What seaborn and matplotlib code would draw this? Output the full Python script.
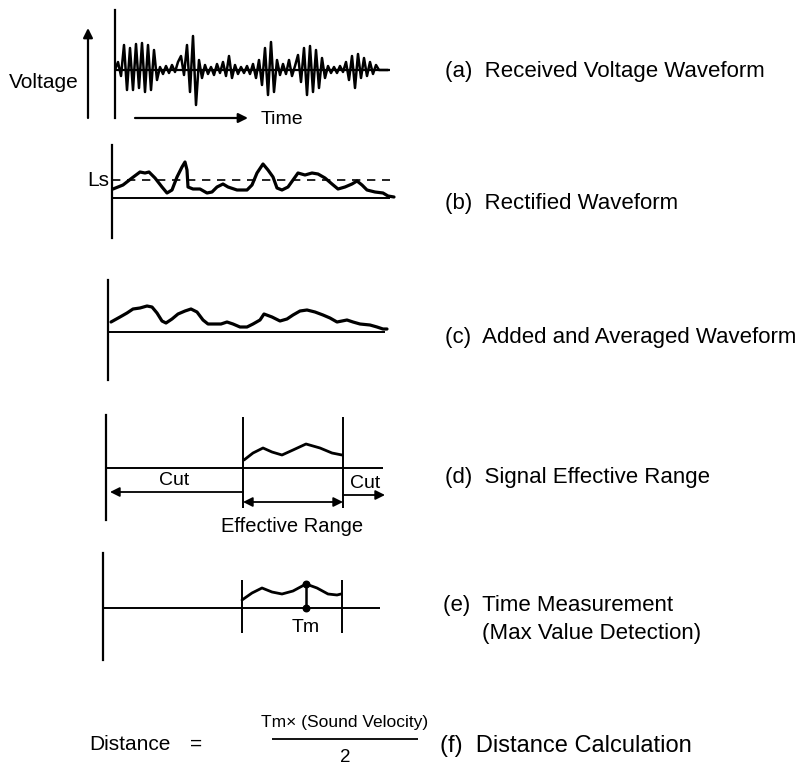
import matplotlib
matplotlib.use("Agg")
import matplotlib.pyplot as plt
import seaborn as sns

# (a) received voltage waveform, one vertex every 3 time units
voltage_a = [0, 8, -6, 25, -20, 22, -20, 26, -18, 27, -22, 25, -20, 20, -10,
             3, -4, 4, -3, 5, -2,
             8, 14, -5, 25, -22, 34, -35, 10, -8,
             5, -4, 3, -5, 6, -3, 8, -6, 14, -8, 5, -4, 3, -3, 4, -4, 6, -8, 10, -15,
             22, -25, 28, -22, 10, -5,
             6, -4, 10, -6, 4,
             15, -12, 22, -25, 24, -22, 20, -18, 12, -8,
             4, -3, 3, -3, 4, -2,
             8, -10, 14, -18, 16, -8, 12, -6, 8, -4, 5,
             0, 0, 0, 0]
time_a = list(range(0, 3 * len(voltage_a), 3))

# (b) rectified waveform and threshold Ls
time_b = [1, 11, 20, 28, 33, 37, 43, 50, 55, 60, 65, 70, 73, 75, 76, 81, 88, 95,
          100, 105, 111, 116, 125, 135, 140, 145, 151, 156, 161, 165, 170, 176,
          181, 186, 193, 200, 206, 213, 220, 226, 233, 240, 245, 250, 255, 263,
          271, 276, 282]
rect_b = [9, 13, 20, 26, 25, 26, 20, 11, 5, 8, 21, 31, 36, 28, 11, 9, 9, 5,
          6, 11, 14, 11, 8, 8, 13, 25, 34, 28, 21, 10, 8, 11,
          18, 25, 23, 25, 24, 20, 14, 9, 11, 14, 17, 13, 8, 6,
          5, 2, 1]
ls_level = 18

# (c) added and averaged waveform
time_c = [3, 12, 19, 25, 32, 39, 44, 49, 54, 58, 64, 70, 77, 83, 89, 95, 100,
          107, 113, 119, 125, 132, 139, 145, 152, 156, 164, 172, 179, 185, 192,
          199, 207, 215, 222, 229, 234, 239, 245, 252, 262, 269, 275, 279]
avg_c = [10, 15, 19, 23, 24, 26, 25, 19, 11, 9, 13, 18, 21, 23, 20, 12, 8,
         8, 8, 10, 8, 5, 5, 8, 12, 18, 15, 11, 13, 17, 21,
         22, 20, 17, 14, 10, 11, 12, 10, 8, 7, 5, 3, 3]

# (d) signal effective range
gate_d = (137, 237)
time_d = [138, 147, 157, 166, 176, 187, 200, 214, 226, 236]
sig_d = [8, 15, 20, 16, 13, 18, 24, 20, 15, 13]

# (e) time measurement
gate_e = (139, 239)
time_e = [139, 149, 159, 169, 179, 190, 203, 214, 225, 234, 238]
sig_e = [8, 15, 20, 16, 14, 17, 24, 20, 14, 13, 14]
tm_e = 203

labels = ["(a)  Received Voltage Waveform", "(b)  Rectified Waveform",
          "(c)  Added and Averaged Waveform", "(d)  Signal Effective Range",
          "(e)  Time Measurement", "(f)  Distance Calculation"]

sns.set_theme(style="white")
plt.rcParams["font.family"] = ["Liberation Sans", "DejaVu Sans"]
plt.rcParams["text.color"] = "black"

W, H = 810, 764
fig = plt.figure(figsize=(W / 100, H / 100), dpi=100)
fig.patch.set_facecolor("white")

# overlay in pixel coordinates for the text
ax0 = fig.add_axes([0, 0, 1, 1])
ax0.set_xlim(0, W)
ax0.set_ylim(H, 0)
ax0.axis("off")


def panel(x0, top, bottom, base):
    ax = fig.add_axes([x0 / W, 1 - bottom / H, 290 / W, (bottom - top) / H])
    ax.set_xlim(0, 290)
    ax.set_ylim(-(bottom - base), base - top)
    ax.patch.set_visible(False)
    for s in ["top", "right", "bottom"]:
        ax.spines[s].set_visible(False)
    ax.spines["left"].set_linewidth(1.6)
    ax.spines["left"].set_color("black")
    ax.set_xticks([])
    ax.set_yticks([])
    return ax


def wave(ax, t, v, lw=2.0):
    sns.lineplot(x=t, y=v, ax=ax, color="black", lw=lw, sort=False,
                 estimator=None, solid_joinstyle="round", solid_capstyle="round")


# (a)
ax_a = panel(115, 10, 118, 70)
wave(ax_a, time_a, voltage_a, lw=1.8)
ax_a.hlines(0, 0, 275, color="black", lw=1.6)

# (b)
ax_b = panel(112, 145, 238, 198)
wave(ax_b, time_b, rect_b, lw=2.3)
ax_b.hlines(0, 0, 278, color="black", lw=1.4)
ax_b.hlines(ls_level, 0, 278, color="black", lw=1.2, linestyles=(0, (5, 4)))

# (c)
ax_c = panel(108, 280, 380, 332)
wave(ax_c, time_c, avg_c, lw=2.3)
ax_c.hlines(0, 0, 277, color="black", lw=1.4)

# (d)
ax_d = panel(106, 415, 520, 468)
wave(ax_d, time_d, sig_d, lw=2.0)
ax_d.hlines(0, 0, 277, color="black", lw=1.4)
ax_d.vlines(gate_d, -40, 51, color="black", lw=1.4)
arw = dict(arrowstyle="-|>", color="black", lw=1.3, mutation_scale=14, shrinkA=0, shrinkB=0)
ax_d.annotate("", xy=(4, -24), xytext=(gate_d[0], -24), arrowprops=arw)
ax_d.annotate("", xy=(279, -27), xytext=(gate_d[1], -27), arrowprops=arw)
ax_d.annotate("", xy=(gate_d[1], -34), xytext=(gate_d[0], -34),
              arrowprops=dict(arrowstyle="<|-|>", color="black", lw=1.3,
                              mutation_scale=14, shrinkA=0, shrinkB=0))
ax_d.text(68, -12, "Cut", ha="center", va="center", fontsize=14)
ax_d.text(259, -15, "Cut", ha="center", va="center", fontsize=14)
ax_d.text(186, -58, "Effective Range", ha="center", va="center", fontsize=14.5, clip_on=False)

# (e)
ax_e = panel(103, 553, 660, 608)
wave(ax_e, time_e, sig_e, lw=2.0)
ax_e.hlines(0, 0, 277, color="black", lw=1.4)
ax_e.vlines(gate_e, -25, 28, color="black", lw=1.4)
ax_e.vlines(tm_e, 0, max(sig_e), color="black", lw=1.8)
ax_e.scatter([tm_e, tm_e], [0, max(sig_e)], s=22, color="black", zorder=5)
ax_e.text(tm_e, -20, "Tm", ha="center", va="center", fontsize=14)

# left side annotations
ax0.annotate("", xy=(88, 28), xytext=(88, 118),
             arrowprops=dict(arrowstyle="-|>", color="black", lw=1.6,
                             mutation_scale=14, shrinkA=0, shrinkB=0))
ax0.text(44, 82, "Voltage", ha="center", va="center", fontsize=15)
ax0.annotate("", xy=(248, 118), xytext=(135, 118),
             arrowprops=dict(arrowstyle="-|>", color="black", lw=1.6,
                             mutation_scale=14, shrinkA=0, shrinkB=0))
ax0.text(282, 120, "Time", ha="center", va="center", fontsize=14)
ax0.text(98, 180, "Ls", ha="center", va="center", fontsize=15)

# right side labels
ax0.text(445, 72, labels[0], ha="left", va="center", fontsize=16)
ax0.text(445, 203, labels[1], ha="left", va="center", fontsize=16)
ax0.text(445, 337, labels[2], ha="left", va="center", fontsize=16)
ax0.text(445, 477, labels[3], ha="left", va="center", fontsize=16)
ax0.text(443, 606, labels[4], ha="left", va="center", fontsize=16)
ax0.text(482, 634, "(Max Value Detection)", ha="left", va="center", fontsize=16)

# (f) formula
ax0.text(130, 745, "Distance", ha="center", va="center", fontsize=15)
ax0.text(196, 744, "=", ha="center", va="center", fontsize=15)
ax0.text(345, 723, "Tm\u00d7 (Sound Velocity)", ha="center", va="center", fontsize=12.5)
ax0.hlines(739, 272, 418, color="black", lw=1.3)
ax0.text(345, 757, "2", ha="center", va="center", fontsize=13.5)
ax0.text(440, 746, labels[5], ha="left", va="center", fontsize=17)

fig.savefig("out.png", dpi=100, facecolor="white")
